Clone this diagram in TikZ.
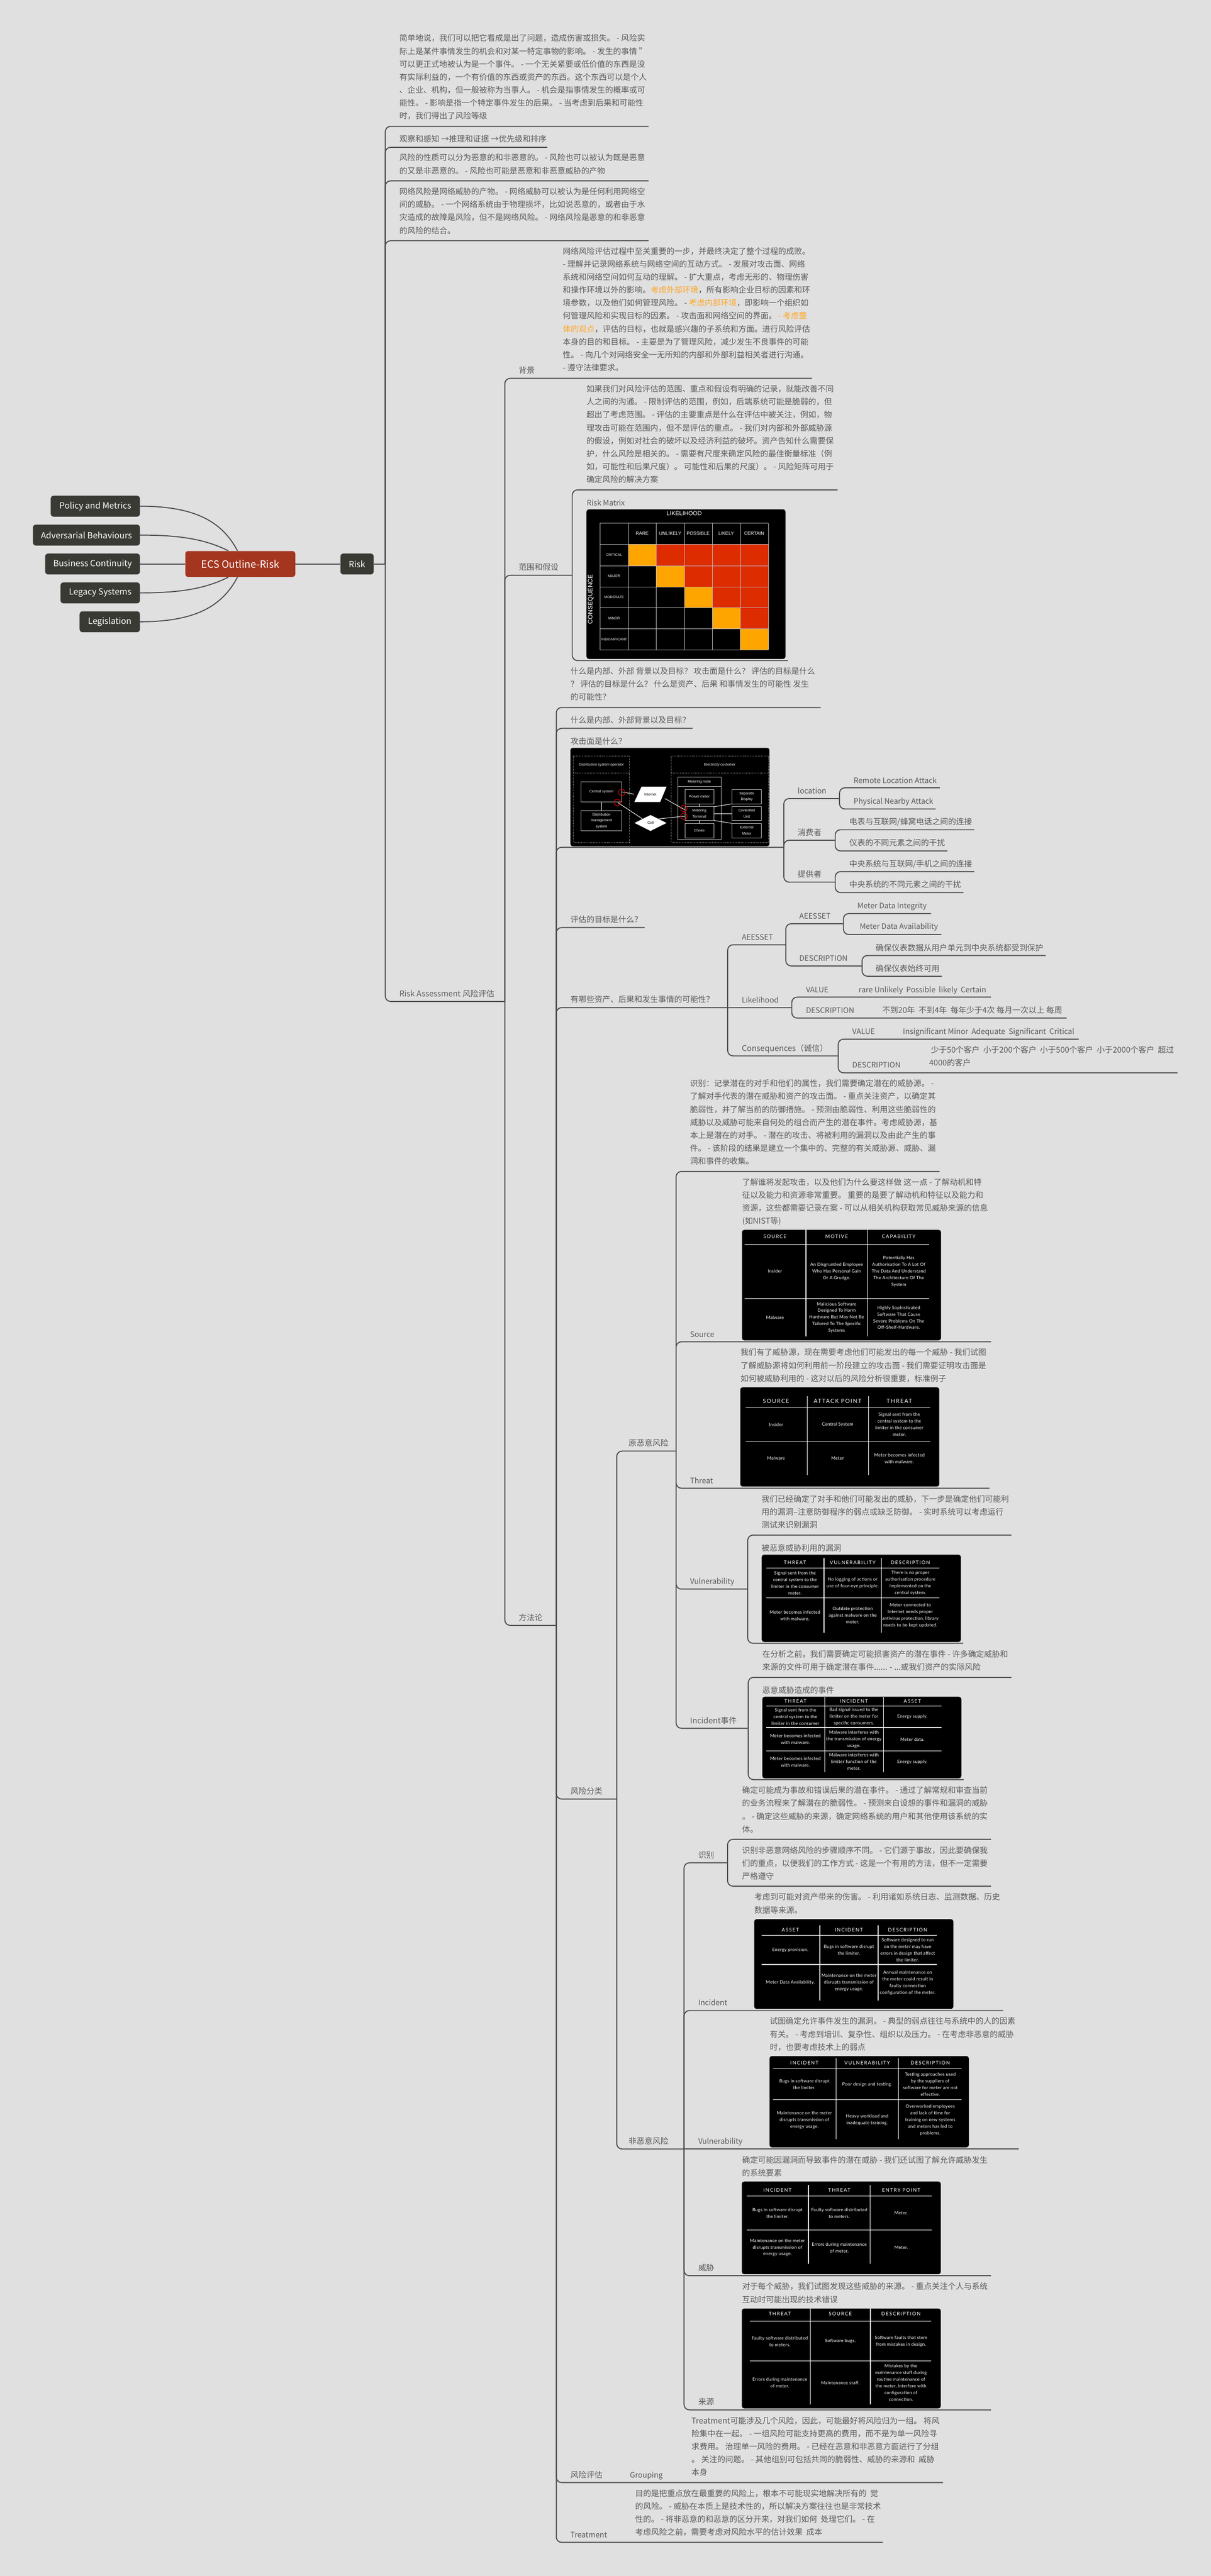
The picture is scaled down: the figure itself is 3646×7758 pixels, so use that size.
\documentclass[tikz,border=0pt]{standalone}
\usepackage{fontspec}
\setmainfont{Noto Sans CJK SC}
\newfontfamily\tablefont[LetterSpace=3]{Lato}
\newfontfamily\headfont[LetterSpace=15]{Lato}
\newfontfamily\figfont{Liberation Sans}
\usetikzlibrary{positioning, shapes.geometric}

\definecolor{pagebg}{HTML}{E0E0E0}
\definecolor{linkgrey}{HTML}{4C4C50}
\definecolor{textgrey}{HTML}{5A5A5A}
\definecolor{markup}{HTML}{FFA726}
\definecolor{boxdark}{HTML}{393A34}
\definecolor{boxred}{HTML}{A4351F}
\definecolor{cellred}{HTML}{DD2C00}
\definecolor{cellorange}{HTML}{FFA500}
\definecolor{gridgrey}{HTML}{B8B8B8}

\tikzset{
  link/.style={draw=linkgrey,line width=0.03cm,rounded corners=0.16cm},
  para/.style={anchor=north west,inner sep=0pt,align=left,text=textgrey,yshift=0.18cm,
    font=\fontsize{6.83pt}{11.1pt}\selectfont,execute at begin node=\strut},
  latin/.style={para,font=\fontsize{6.45pt}{11.1pt}\selectfont},
  topic/.style={fill=boxdark,text=white,rounded corners=0.09cm,inner sep=0pt,minimum height=0.63cm,
    font=\fontsize{7.3pt}{9pt}\selectfont},
  shot/.style={fill=black,rounded corners=0.07cm},
  rule/.style={draw=white,line width=0.02cm},
  cell/.style={text=white,align=center,inner sep=0pt,font=\tablefont\fontsize{3.85pt}{5.7pt}\selectfont},
  head/.style={text=white,inner sep=0pt,font=\headfont\fontsize{4.2pt}{5pt}\selectfont},
  headbig/.style={head,font=\headfont\fontsize{4.8pt}{6pt}\selectfont},
  fighead/.style={text=white,inner sep=0pt,font=\figfont\fontsize{4pt}{5pt}\selectfont},
  figrow/.style={text=white,inner sep=0pt,font=\figfont\fontsize{3pt}{4pt}\selectfont},
  figbox/.style={draw=gridgrey,line width=0.012cm,text=white,align=center,inner sep=0pt,
    font=\figfont\fontsize{3.1pt}{5.2pt}\selectfont},
  wire/.style={draw=white,line width=0.015cm},
  zone/.style={draw=gridgrey,line width=0.01cm,densely dotted},
  hit/.style={draw=red!85!black,line width=0.018cm,circle,inner sep=0pt,minimum size=0.195cm}
}

\newcommand{\branch}[4]{\coordinate (#2) at (#3,#4); \draw[link] (#1) |- (#2);}

\begin{document}
\begin{tikzpicture}[x=0.01cm,y=-0.01cm]
  \path[fill=pagebg,use as bounding box] (0,0) rectangle (3646,7758);

  % centre and side topics
  \node[topic,fill=boxred,minimum width=3.31cm,minimum height=0.78cm,font=\fontsize{8.6pt}{11pt}\selectfont]
    (ecs) at (723.5,1698.5) {ECS Outline-Risk};
  \node[topic,minimum width=2.686cm,anchor=east] (policy) at (422,1524.5) {Policy and Metrics};
  \node[topic,minimum width=3.22cm,anchor=east] (adversary) at (422,1611.5) {Adversarial Behaviours};
  \node[topic,minimum width=2.85cm,anchor=east] (business) at (422,1698.5) {Business Continuity};
  \node[topic,minimum width=2.39cm,anchor=east] (legacy) at (422,1785.5) {Legacy Systems};
  \node[topic,minimum width=1.815cm,anchor=east] (legislation) at (422,1872.5) {Legislation};
  \node[topic,minimum width=1cm] (risk) at (1075,1698.5) {Risk};

  \draw[link] (policy.east) .. controls +(170,0) and +(-45,-85) .. ([xshift=-0.085cm]ecs.north);
  \draw[link] (adversary.east) .. controls +(120,0) and +(-70,-35) .. ([xshift=-0.36cm]ecs.north);
  \draw[link] (business.east) -- (ecs.west);
  \draw[link] (legacy.east) .. controls +(120,0) and +(-70,35) .. ([xshift=-0.36cm]ecs.south);
  \draw[link] (legislation.east) .. controls +(170,0) and +(-45,85) .. ([xshift=-0.085cm]ecs.south);
  \draw[link] (ecs.east) -- (risk.west);

  % first level
  \coordinate (e_risk) at (1160,1698.5);
  \draw[link] (risk.east) -- (e_risk);
  \branch{e_risk}{e_intro}{1953}{380.6}
  \branch{e_risk}{e_obs}{1648}{443.7}
  \branch{e_risk}{e_kind}{1953}{544.8}
  \branch{e_risk}{e_cyber}{1953}{725}
  \branch{e_risk}{e_ra}{1520}{3016}

  \node[para] (n_intro) at (1202,121) {简单地说，我们可以把它看成是出了问题，造成伤害或损失。 - 风险实\\
    际上是某件事情发生的机会和对某一特定事物的影响。 - 发生的事情 "\\
    可以更正式地被认为是一个事件。 - 一个无关紧要或低价值的东西是没\\
    有实际利益的，一个有价值的东西或资产的东西。这个东西可以是个人\\
    、企业、机构，但一般被称为当事人。 - 机会是指事情发生的概率或可\\
    能性。 - 影响是指一个特定事件发生的后果。 - 当考虑到后果和可能性\\
    时，我们得出了风险等级};
  \node[para] (n_obs) at (1202,417.8) {观察和感知 →推理和证据 →优先级和排序};
  \node[para] (n_kind) at (1202,481) {风险的性质可以分为恶意的和非恶意的。 - 风险也可以被认为既是恶意\\
    的又是非恶意的。 - 风险也可能是恶意和非恶意威胁的产物};
  \node[para] (n_cyber) at (1202,582.6) {网络风险是网络威胁的产物。 - 网络威胁可以被认为是任何利用网络空\\
    间的威胁。 - 一个网络系统由于物理损坏，比如说恶意的，或者由于水\\
    灾造成的故障是风险，但不是网络风险。 - 网络风险是恶意的和非恶意\\
    的风险的结合。};
  \node[para] (n_ra) at (1202,2991) {Risk Assessment 风险评估};

  % background and scope
  \branch{e_ra}{e_bg}{2445}{1139.6}
  \branch{e_ra}{e_scope}{1723}{1732.5}
  \branch{e_ra}{e_method}{1675}{4895}
  \branch{e_scope}{e_scopetxt}{2522}{1475.4}
  \branch{e_scope}{e_matrix}{2372}{1989.5}

  \node[para] (n_bg) at (1561,1114) {背景};
  \node[para] (n_bgtxt) at (1694,762) {网络风险评估过程中至关重要的一步，并最终决定了整个过程的成败。\\
    - 理解并记录网络系统与网络空间的互动方式。 - 发展对攻击面、网络\\
    系统和网络空间如何互动的理解。 - 扩大重点，考虑无形的、物理伤害\\
    和操作环境以外的影响。\textcolor{markup}{考虑外部环境}，所有影响企业目标的因素和环\\
    境参数，以及他们如何管理风险。 - \textcolor{markup}{考虑内部环境}，即影响一个组织如\\
    何管理风险和实现目标的因素。 - 攻击面和网络空间的界面。 \textcolor{markup}{- 考虑整}\\
    \textcolor{markup}{体的观点}，评估的目标，也就是感兴趣的子系统和方面。进行风险评估\\
    本身的目的和目标。 - 主要是为了管理风险，减少发生不良事件的可能\\
    性。 - 向几个对网络安全一无所知的内部和外部利益相关者进行沟通。\\
    - 遵守法律要求。};
  \node[para] (n_scope) at (1561,1707) {范围和假设};
  \node[para] (n_scopetxt) at (1765,1177) {如果我们对风险评估的范围、重点和假设有明确的记录，就能改善不同\\
    人之间的沟通。 - 限制评估的范围，例如，后端系统可能是脆弱的，但\\
    超出了考虑范围。 - 评估的主要重点是什么在评估中被关注，例如，物\\
    理攻击可能在范围内，但不是评估的重点。 - 我们对内部和外部威胁源\\
    的假设，例如对社会的破坏以及经济利益的破坏。资产告知什么需要保\\
    护，什么风险是相关的。 - 需要有尺度来确定风险的最佳衡量标准（例\\
    如，可能性和后果尺度）。 可能性和后果的尺度）。 - 风险矩阵可用于\\
    确定风险的解决方案};
  \node[latin] (n_matrix) at (1766,1512.7) {Risk Matrix};

  % risk matrix picture
  \path[shot] (1766,1534) rectangle (2365,1984.5);
  \foreach \r in {0,...,4}
    \fill[cellorange] ({1891.4+\r*84.3},{1639.6+\r*63.5}) rectangle +(84.3,63.5);
  \foreach \r in {0,...,3} {
    \pgfmathtruncatemacro{\first}{\r+1}
    \foreach \c in {\first,...,4}
      \fill[cellred] ({1891.4+\c*84.3},{1639.6+\r*63.5}) rectangle +(84.3,63.5);
  }
  \foreach \x in {1806.6,1891.4,1975.6,2060.5,2144.7,2229.6,2313.7}
    \draw[gridgrey,line width=0.012cm] (\x,1575.7) -- (\x,1957);
  \foreach \y in {1575.7,1639.6,1703.5,1767.3,1830.3,1894,1957}
    \draw[gridgrey,line width=0.012cm] (1806.6,\y) -- (2313.7,\y);
  \node[fighead,font=\figfont\fontsize{5pt}{6pt}\selectfont] (m_like) at (2060,1546) {LIKELIHOOD};
  \node[fighead,rotate=90,font=\figfont\fontsize{5.4pt}{6pt}\selectfont] (m_cons) at (1779,1804.6) {CONSEQUENCE};
  \foreach \lab [count=\i from 0] in {RARE,UNLIKELY,POSSIBLE,LIKELY,CERTAIN}
    \node[fighead] (m_col\i) at ({1933.5+\i*84.3},1607) {\lab};
  \foreach \lab [count=\i from 0] in {CRITICAL,MAJOR,MODERATE,MINOR,INSIGNIFICANT}
    \node[figrow] (m_row\i) at (1849,{1671.6+\i*63.5}) {\lab};

  % method
  \branch{e_method}{e_what}{2471}{2130.8}
  \branch{e_method}{e_context}{2085}{2193.5}
  \branch{e_method}{e_attack}{2360}{2551.7}
  \branch{e_method}{e_goal}{1941}{2793.5}
  \branch{e_method}{e_assets}{2191}{3034.6}
  \branch{e_method}{e_class}{1857}{5418}
  \branch{e_method}{e_eval}{2839}{7476.5}
  \branch{e_method}{e_treat}{2658}{7656.6}

  \node[para] (n_method) at (1561,4870) {方法论};
  \node[para] (n_what) at (1717,2027.4) {什么是内部、外部 背景以及目标？ 攻击面是什么？ 评估的目标是什么\\
    ？ 评估的目标是什么？ 什么是资产、后果 和事情发生的可能性 发生\\
    的可能性？};
  \node[para] (n_context) at (1717,2168) {什么是内部、外部背景以及目标？};
  \node[para] (n_attack) at (1717,2231) {攻击面是什么？};
  \node[para] (n_goal) at (1717,2768) {评估的目标是什么？};
  \node[para] (n_assets) at (1717,3009) {有哪些资产、后果和发生事情的可能性？};
  \node[para] (n_class) at (1717,5393) {风险分类};

  % attack surface picture
  \path[shot] (1717.3,2252.3) rectangle (2316.8,2548.5);
  \draw[zone] (1726.5,2276) rectangle (1895,2536.7);
  \draw[zone] (1726.5,2328) -- (1895,2328);
  \draw[zone] (2021.4,2276) rectangle (2313.8,2536.7);
  \draw[zone] (2021.4,2328) -- (2313.8,2328);
  \draw[figbox] (2040.3,2340.7) rectangle (2171.4,2528.3);
  \draw[figbox] (2040.3,2368.7) -- (2171.4,2368.7);
  \fill[white] (1931.6,2369) -- (2007,2369) -- (1987.8,2415.3) -- (1910,2415.3) -- cycle;
  \node[figbox,draw=none,text=black] (f_inet) at (1958,2392) {Internet};
  \node[figbox,draw=none,fill=white,text=black,diamond,aspect=2,minimum width=0.97cm,minimum height=0.484cm] (f_cell) at (1958.7,2478.5) {};
  \node[figbox,draw=none,text=black] (f_celltxt) at (1958.7,2478.5) {Cell};
  \node[figbox,draw=none] (f_dso) at (1810.7,2303) {Distribution system operator};
  \node[figbox,draw=none] (f_cust) at (2167,2303) {Electricity customer};
  \node[figbox,draw=none] (f_mnode) at (2105.6,2355) {Metering node};
  \node[figbox,minimum width=1.229cm,minimum height=0.61cm] (f_central) at (1811,2384.8) {Central system};
  \node[figbox,minimum width=1.229cm,minimum height=0.613cm] (f_dms) at (1811,2471.7) {Distribution\\management\\system};
  \node[figbox,minimum width=0.875cm,minimum height=0.423cm] (f_power) at (2105.7,2399.2) {Power meter};
  \node[figbox,minimum width=0.875cm,minimum height=0.42cm] (f_term) at (2105.7,2450.3) {Metering\\Terminal};
  \node[figbox,minimum width=0.875cm,minimum height=0.424cm] (f_choke) at (2105.7,2501.5) {Choke};
  \node[figbox,minimum width=0.877cm,minimum height=0.423cm] (f_sep) at (2248.4,2399.2) {Separate\\Display};
  \node[figbox,minimum width=0.877cm,minimum height=0.42cm] (f_ctrl) at (2248.4,2450.3) {Controlled\\Unit};
  \node[figbox,minimum width=0.877cm,minimum height=0.424cm] (f_ext) at (2248.4,2501.5) {External\\Meter};
  \draw[wire] (f_central) -- (f_dms);
  \draw[wire] (f_power) -- (f_term);
  \draw[wire] (f_term) -- (f_choke);
  \draw[wire] (f_central.east) -- ([xshift=-0.3cm]f_inet.west);
  \draw[wire] ([xshift=0.25cm,yshift=-0.13cm]f_inet.east) -- (f_term.165);
  \draw[wire] (f_central.south east) ++(-13,1) -- (f_cell.north west);
  \draw[wire] (f_cell.north east) -- (f_term.190);
  \draw[wire] (f_term.25) -- (f_sep.south west);
  \draw[wire] (f_term.east) -- (f_ctrl.west);
  \draw[wire] (f_term.-25) -- (f_ext.north west);
  \node[hit] (f_hit1) at (1872,2386.7) {};
  \node[hit] (f_hit2) at (1858.7,2416.7) {};
  \node[hit] (f_hit3) at (2059,2434.7) {};
  \node[hit] (f_hit4) at (2059,2458.3) {};

  % attack locations
  \branch{e_attack}{e_loc}{2527.7}{2405}
  \branch{e_attack}{e_cons}{2514.7}{2530.4}
  \branch{e_attack}{e_prov}{2514.7}{2656.7}
  \branch{e_loc}{e_remote}{2830}{2372.6}
  \branch{e_loc}{e_phys}{2817}{2436.4}
  \branch{e_cons}{e_cons_a}{2933.5}{2498.8}
  \branch{e_cons}{e_cons_b}{2852.6}{2562.7}
  \branch{e_prov}{e_prov_a}{2933.5}{2625}
  \branch{e_prov}{e_prov_b}{2901}{2688}

  \node[latin] (n_loc) at (2401,2380) {location};
  \node[para] (n_cons) at (2401,2506) {消费者};
  \node[para] (n_prov) at (2401,2632) {提供者};
  \node[latin] (n_remote) at (2569.5,2348.7) {Remote Location Attack};
  \node[latin] (n_phys) at (2569.5,2411.9) {Physical Nearby Attack};
  \node[para] (n_cons_a) at (2556.4,2474) {电表与互联网/蜂窝电话之间的连接};
  \node[para] (n_cons_b) at (2556.4,2537.4) {仪表的不同元素之间的干扰};
  \node[para] (n_prov_a) at (2556.4,2600.6) {中央系统与互联网/手机之间的连接};
  \node[para] (n_prov_b) at (2556.4,2663) {中央系统的不同元素之间的干扰};

  % assets, likelihood, consequences
  \branch{e_assets}{e_ae}{2366}{2845.4}
  \coordinate (e_like) at (2384,3034.6);
  \draw[link] (e_assets) -- (e_like);
  \branch{e_assets}{e_conq}{2523.8}{3180}
  \branch{e_ae}{e_ae_val}{2539.5}{2782}
  \branch{e_ae}{e_ae_desc}{2595.6}{2909}
  \branch{e_ae_val}{e_integ}{2803}{2751.4}
  \branch{e_ae_val}{e_avail}{2834}{2814.5}
  \branch{e_ae_desc}{e_protect}{3148.8}{2877.7}
  \branch{e_ae_desc}{e_always}{2835.6}{2940}
  \branch{e_like}{e_like_val}{2984}{3003}
  \branch{e_like}{e_like_desc}{3211.4}{3066}
  \branch{e_conq}{e_conq_val}{3248}{3129.5}
  \branch{e_conq}{e_conq_desc}{3545}{3231}

  \node[latin] (n_ae) at (2232.8,2820.8) {AEESSET};
  \node[latin] (n_like) at (2232.8,3009.6) {Likelihood};
  \node[para] (n_conq) at (2232.8,3155.5) {Consequences（诚信）};
  \node[latin] (n_ae_val) at (2406,2757.7) {AEESSET};
  \node[latin] (n_ae_desc) at (2406,2884) {DESCRIPTION};
  \node[latin] (n_integ) at (2581,2726.8) {Meter Data Integrity};
  \node[latin] (n_avail) at (2587.8,2789) {Meter Data Availability};
  \node[para] (n_protect) at (2636,2853) {确保仪表数据从用户单元到中央系统都受到保护};
  \node[para] (n_always) at (2636,2915.5) {确保仪表始终可用};
  \node[latin] (n_like_val) at (2426,2978.7) {VALUE};
  \node[latin] (n_like_scale) at (2585,2978.7) {rare Unlikely~ Possible~ likely~ Certain};
  \node[latin] (n_like_desc) at (2426,3041.8) {DESCRIPTION};
  \node[para] (n_like_freq) at (2655.6,3041.8) {不到20年~ 不到4年~ 每年少于4次 每月一次以上 每周};
  \node[latin] (n_conq_val) at (2565.6,3105) {VALUE};
  \node[latin] (n_conq_scale) at (2718,3105) {Insignificant Minor~ Adequate~ Significant~ Critical};
  \node[latin] (n_conq_desc) at (2565.6,3206) {DESCRIPTION};
  \node[para] (n_conq_cust) at (2797,3167) {~少于50个客户~ 小于200个客户~ 小于500个客户~ 小于2000个客户~ 超过\\
    4000的客户};

  % malicious risk
  \branch{e_class}{e_mal}{2035.7}{4370}
  \branch{e_class}{e_non}{2059.6}{6472}
  \node[para] (n_mal) at (1892,4345) {原恶意风险};
  \node[para] (n_non) at (1892,6447) {非恶意风险};

  \branch{e_mal}{e_identify}{2829}{3528}
  \branch{e_mal}{e_source}{2984}{4040.8}
  \branch{e_mal}{e_threat}{2979}{4482}
  \branch{e_mal}{e_vuln}{2251.3}{4785.8}
  \branch{e_mal}{e_inc}{2252.8}{5205}
  \branch{e_vuln}{e_vuln_a}{3045}{4623}
  \branch{e_vuln}{e_vuln_b}{2900}{4949}
  \branch{e_inc}{e_inc_a}{3045}{5051.7}
  \branch{e_inc}{e_inc_b}{2901.8}{5359.7}

  \node[para] (n_identify) at (2077,3268.8) {识别：记录潜在的对手和他们的属性，我们需要确定潜在的威胁源。 -\\
    了解对手代表的潜在威胁和资产的攻击面。 - 重点关注资产，以确定其\\
    脆弱性，并了解当前的防御措施。 - 预测由脆弱性、利用这些脆弱性的\\
    威胁以及威胁可能来自何处的组合而产生的潜在事件。考虑威胁源，基\\
    本上是潜在的对手。 - 潜在的攻击、将被利用的漏洞以及由此产生的事\\
    件。 - 该阶段的结果是建立一个集中的、完整的有关威胁源、威胁、漏\\
    洞和事件的收集。};
  \node[latin] (n_source) at (2077,4016.7) {Source};
  \node[para] (n_sourcetxt) at (2234,3565.7) {了解谁将发起攻击，以及他们为什么要这样做 这一点 - 了解动机和特\\
    征以及能力和资源非常重要。 重要的是要了解动机和特征以及能力和\\
    资源，这些都需要记录在案 - 可以从相关机构获取常见威胁来源的信息\\
    (如NIST等)};
  \node[latin] (n_threat) at (2077,4457) {Threat};
  \node[para] (n_threattxt) at (2229,4079) {我们有了威胁源，现在需要考虑他们可能发出的每一个威胁 - 我们试图\\
    了解威胁源将如何利用前一阶段建立的攻击面 - 我们需要证明攻击面是\\
    如何被威胁利用的 - 这对以后的风险分析很重要，标准例子};
  \node[latin] (n_vuln) at (2077,4760.6) {Vulnerability};
  \node[para] (n_vulntxt) at (2292.4,4520) {我们已经确定了对手和他们可能发出的威胁，下一步是确定他们可能利\\
    用的漏洞--注意防御程序的弱点或缺乏防御。 - 实时系统可以考虑运行\\
    测试来识别漏洞};
  \node[para] (n_vulntab) at (2292.4,4661) {被恶意威胁利用的漏洞};
  \node[para] (n_inc) at (2077,5180.8) {Incident事件};
  \node[para] (n_inctxt) at (2294.6,4987) {在分析之前，我们需要确定可能损害资产的潜在事件 - 许多确定威胁和\\
    来源的文件可用于确定潜在事件...... - ...或我们资产的实际风险};
  \node[para] (n_inctab) at (2294.6,5089) {恶意威胁造成的事件};

  % source table
  \path[shot] (2234,3704) rectangle (2833.4,4036.7);
  \foreach \x in {2426.5,2612} \draw[rule] (\x,3704) -- (\x,4025);
  \foreach \y in {3748,3910.6} \draw[rule] (2241.6,\y) -- (2797,\y);
  \node[head] (t1_a) at (2333.4,3724) {SOURCE};
  \node[head] (t1_b) at (2519,3724) {MOTIVE};
  \node[head] (t1_c) at (2706,3724) {CAPABILITY};
  \node[cell] (t1_d) at (2333.4,3829) {Insider};
  \node[cell] (t1_e) at (2519,3829) {An Disgruntled Employee\\Who Has Personal Gain\\Or A Grudge.};
  \node[cell] (t1_f) at (2706,3829) {Potentially Has\\Authorisation To A Lot Of\\The Data And Understand\\The Architecture Of The\\System};
  \node[cell] (t1_g) at (2333.4,3968) {Malware};
  \node[cell] (t1_h) at (2519,3968) {Malicious Software\\Designed To Harm\\Hardware But May Not Be\\Tailored To The Specific\\Systems};
  \node[cell] (t1_i) at (2706,3968) {Highly Sophisticated\\Software That Cause\\Severe Problems On The\\Off-Shelf-Hardware.};

  % threat table
  \path[shot] (2229,4178) rectangle (2828,4477);
  \foreach \x in {2430.4,2614.7} \draw[rule] (\x,4205) -- (\x,4442);
  \foreach \y in {4238,4341} \draw[rule] (2244.8,\y) -- (2800,\y);
  \node[headbig] (t2_a) at (2336.6,4220) {SOURCE};
  \node[headbig] (t2_b) at (2522,4220) {ATTACK POINT};
  \node[headbig] (t2_c) at (2707.8,4220) {THREAT};
  \node[cell] (t2_d) at (2336.6,4290) {Insider};
  \node[cell] (t2_e) at (2522,4290) {Central System};
  \node[cell] (t2_f) at (2707.8,4290) {Signal sent from the\\central system to the\\limiter in the consumer\\meter.};
  \node[cell] (t2_g) at (2336.6,4392) {Malware};
  \node[cell] (t2_h) at (2522,4392) {Meter};
  \node[cell] (t2_i) at (2707.8,4392) {Meter becomes infected\\with malware.};

  % vulnerability table
  \path[shot] (2293.5,4682) rectangle (2893,4945);
  \foreach \x in {2480.9,2654} \draw[rule] (\x,4692.5) -- (\x,4916.3);
  \foreach \y in {4722.7,4812.5} \draw[rule] (2307.8,\y) -- (2827.8,\y);
  \node[head] (t3_a) at (2393.6,4706.6) {THREAT};
  \node[head] (t3_b) at (2567.4,4706.6) {VULNERABILITY};
  \node[head] (t3_c) at (2741,4706.6) {DESCRIPTION};
  \node[cell] (t3_d) at (2393.6,4767.5) {Signal sent from the\\central system to the\\limiter in the consumer\\meter.};
  \node[cell] (t3_e) at (2567.4,4767.5) {No logging of actions or\\use of four-eye principle.};
  \node[cell] (t3_f) at (2741,4767.5) {There is no proper\\authorisation procedure\\implemented on the\\central system.};
  \node[cell] (t3_g) at (2393.6,4865) {Meter becomes infected\\with malware.};
  \node[cell] (t3_h) at (2567.4,4864.5) {Outdate protection\\against malware on the\\meter.};
  \node[cell] (t3_i) at (2741,4865) {Meter connected to\\Internet needs proper\\antivirus protection, library\\needs to be kept updated.};

  % incident table
  \path[shot] (2295.3,5110) rectangle (2894.5,5355.5);
  \foreach \x in {2483.8,2659.8} \draw[rule] (\x,5110.6) -- (\x,5337);
  \foreach \y in {5138,5202.5,5272.7} \draw[rule] (2307.8,\y) -- (2835,\y);
  \node[head] (t4_a) at (2395,5124) {THREAT};
  \node[head] (t4_b) at (2571,5124) {INCIDENT};
  \node[head] (t4_c) at (2747,5124) {ASSET};
  \node[cell] (t4_d) at (2395,5170) {Signal sent from the\\central system to the\\limiter in the consumer};
  \node[cell] (t4_e) at (2571,5170) {Bad signal issued to the\\limiter on the meter for\\specific consumers.};
  \node[cell] (t4_f) at (2747,5170) {Energy supply.};
  \node[cell] (t4_g) at (2395,5238) {Meter becomes infected\\with malware.};
  \node[cell] (t4_h) at (2571,5238) {Malware interferes with\\the transmission of energy\\usage.};
  \node[cell] (t4_i) at (2747,5238) {Meter data.};
  \node[cell] (t4_j) at (2395,5306) {Meter becomes infected\\with malware.};
  \node[cell] (t4_k) at (2571,5306) {Malware interferes with\\limiter function of the\\meter.};
  \node[cell] (t4_l) at (2747,5306) {Energy supply.};

  % non-malicious risk
  \branch{e_non}{e_nid}{2190.8}{5610}
  \branch{e_non}{e_ninc}{3020.7}{6055}
  \coordinate (e_nvul) at (3067,6472);
  \draw[link] (e_non) -- (e_nvul);
  \branch{e_non}{e_nthr}{2984}{6853.6}
  \branch{e_non}{e_nsrc}{2984}{7257.6}
  \branch{e_nid}{e_nid_a}{2984}{5539.4}
  \branch{e_nid}{e_nid_b}{2984}{5680.4}

  \node[para] (n_nid) at (2101.7,5585) {识别};
  \node[para] (n_nid_a) at (2233.6,5397.7) {确定可能成为事故和错误后果的潜在事件。 - 通过了解常规和审查当前\\
    的业务流程来了解潜在的脆弱性。 - 预测来自设想的事件和漏洞的威胁\\
    。 - 确定这些威胁的来源，确定网络系统的用户和其他使用该系统的实\\
    体。};
  \node[para] (n_nid_b) at (2233.6,5578) {识别非恶意网络风险的步骤顺序不同。 - 它们源于事故，因此要确保我\\
    们的重点，以便我们的工作方式 - 这是一个有用的方法，但不一定需要\\
    严格遵守};
  \node[latin] (n_ninc) at (2101.7,6029.8) {Incident};
  \node[para] (n_ninctxt) at (2270.8,5719) {考虑到可能对资产带来的伤害。 - 利用诸如系统日志、监测数据、历史\\
    数据等来源。};
  \node[latin] (n_nvul) at (2101.7,6447) {Vulnerability};
  \node[para] (n_nvultxt) at (2317,6093) {试图确定允许事件发生的漏洞。 - 典型的弱点往往与系统中的人的因素\\
    有关。 - 考虑到培训、复杂性、组织以及压力。 - 在考虑非恶意的威胁\\
    时，也要考虑技术上的弱点};
  \node[para] (n_nthr) at (2101.7,6828.6) {威胁};
  \node[para] (n_nthrtxt) at (2233.6,6510.7) {确定可能因漏洞而导致事件的潜在威胁 - 我们还试图了解允许威胁发生\\
    的系统要素};
  \node[para] (n_nsrc) at (2101.7,7232) {来源};
  \node[para] (n_nsrctxt) at (2233.6,6892) {对于每个威胁，我们试图发现这些威胁的来源。 - 重点关注个人与系统\\
    互动时可能出现的技术错误};

  % asset incident table
  \path[shot] (2270.8,5780) rectangle (2870.6,6050);
  \foreach \x in {2468.6,2644} \draw[rule] (\x,5799) -- (\x,6025.5);
  \foreach \y in {5828.4,5916} \draw[rule] (2293,\y) -- (2820,\y);
  \node[head] (t5_a) at (2379.5,5811.6) {ASSET};
  \node[head] (t5_b) at (2556,5811.6) {INCIDENT};
  \node[head] (t5_c) at (2733,5811.6) {DESCRIPTION};
  \node[cell] (t5_d) at (2379.5,5872.6) {Energy provision.};
  \node[cell] (t5_e) at (2556,5872.6) {Bugs in software disrupt\\the limiter.};
  \node[cell] (t5_f) at (2733,5872.6) {Software designed to run\\on the meter may have\\errors in design that affect\\the limiter.};
  \node[cell] (t5_g) at (2379.5,5971) {Meter Data Availability.};
  \node[cell] (t5_h) at (2556,5971) {Maintenance on the meter\\disrupts transmission of\\energy usage.};
  \node[cell] (t5_i) at (2733,5971) {Annual maintenance on\\the meter could result in\\faulty connection\\configuration of the meter.};

  % incident vulnerability table
  \path[shot] (2317,6192) rectangle (2917,6467);
  \foreach \x in {2517.7,2705.7} \draw[rule] (\x,6198.5) -- (\x,6441.8);
  \foreach \y in {6230.6,6324} \draw[rule] (2328,\y) -- (2895,\y);
  \node[head] (t6_a) at (2422,6213) {INCIDENT};
  \node[head] (t6_b) at (2611,6213) {VULNERABILITY};
  \node[head] (t6_c) at (2801,6213) {DESCRIPTION};
  \node[cell] (t6_d) at (2422,6277.5) {Bugs in software disrupt\\the limiter.};
  \node[cell] (t6_e) at (2611,6277.5) {Poor design and testing.};
  \node[cell] (t6_f) at (2801,6277.5) {Testing approaches used\\by the suppliers of\\software for meter are not\\effective.};
  \node[cell] (t6_g) at (2422,6384.7) {Maintenance on the meter\\disrupts transmission of\\energy usage.};
  \node[cell] (t6_h) at (2611,6384.7) {Heavy workload and\\inadequate training.};
  \node[cell] (t6_i) at (2801,6384.7) {Overworked employees\\and lack of time for\\training on new systems\\and meters has led to\\problems.};

  % incident threat table
  \path[shot] (2233.6,6570) rectangle (2832.7,6849);
  \foreach \x in {2434.2,2620} \draw[rule] (\x,6579.6) -- (\x,6818);
  \foreach \y in {6613.8,6716} \draw[rule] (2249,\y) -- (2806,\y);
  \node[head] (t7_a) at (2341,6596) {INCIDENT};
  \node[head] (t7_b) at (2527,6596) {THREAT};
  \node[head] (t7_c) at (2713.4,6596) {ENTRY POINT};
  \node[cell] (t7_d) at (2341,6665) {Bugs in software disrupt\\the limiter.};
  \node[cell] (t7_e) at (2527,6665) {Faulty software distributed\\to meters.};
  \node[cell] (t7_f) at (2713.4,6665) {Meter.};
  \node[cell] (t7_g) at (2341,6769) {Maintenance on the meter\\disrupts transmission of\\energy usage.};
  \node[cell] (t7_h) at (2527,6769) {Errors during maintenance\\of meter.};
  \node[cell] (t7_i) at (2713.4,6769) {Meter.};

  % threat source table
  \path[shot] (2233.6,6952.5) rectangle (2832.7,7253);
  \foreach \x in {2439.8,2620.8} \draw[rule] (\x,6952.5) -- (\x,7241);
  \foreach \y in {6990.7,7110} \draw[rule] (2258,\y) -- (2803,\y);
  \node[head] (t8_a) at (2348,6968.7) {THREAT};
  \node[head] (t8_b) at (2530,6968.7) {SOURCE};
  \node[head] (t8_c) at (2712.7,6968.7) {DESCRIPTION};
  \node[cell] (t8_d) at (2348,7051) {Faulty software distributed\\to meters.};
  \node[cell] (t8_e) at (2530,7051) {Software bugs.};
  \node[cell] (t8_f) at (2712.7,7051) {Software faults that stem\\from mistakes in design.};
  \node[cell] (t8_g) at (2348,7176) {Errors during maintenance\\of meter.};
  \node[cell] (t8_h) at (2530,7176) {Maintenance staff.};
  \node[cell] (t8_i) at (2712.7,7176) {Mistakes by the\\maintenance staff during\\routine maintenance of\\the meter, interfere with\\configuration of\\connection.};

  % evaluation and treatment
  \node[para] (n_eval) at (1717,7452) {风险评估};
  \node[latin] (n_group) at (1896,7452) {Grouping};
  \node[para] (n_grouptxt) at (2081.4,7296) {Treatment可能涉及几个风险，因此，可能最好将风险归为一组。 将风\\
    险集中在一起。 - 一组风险可能支持更高的费用，而不是为单一风险寻\\
    求费用。 治理单一风险的费用。 - 已经在恶意和非恶意方面进行了分组\\
    。 关注的问题。 - 其他组别可包括共同的脆弱性、威胁的来源和~ 威胁\\
    本身};
  \node[latin] (n_treat) at (1717,7632) {Treatment};
  \node[para] (n_treattxt) at (1912,7515) {目的是把重点放在最重要的风险上，根本不可能现实地解决所有的~ 觉\\
    的风险。 - 威胁在本质上是技术性的，所以解决方案往往也是非常技术\\
    性的。 - 将非恶意的和恶意的区分开来，对我们如何~ 处理它们。 - 在\\
    考虑风险之前，需要考虑对风险水平的估计效果~ 成本};
\end{tikzpicture}
\end{document}
